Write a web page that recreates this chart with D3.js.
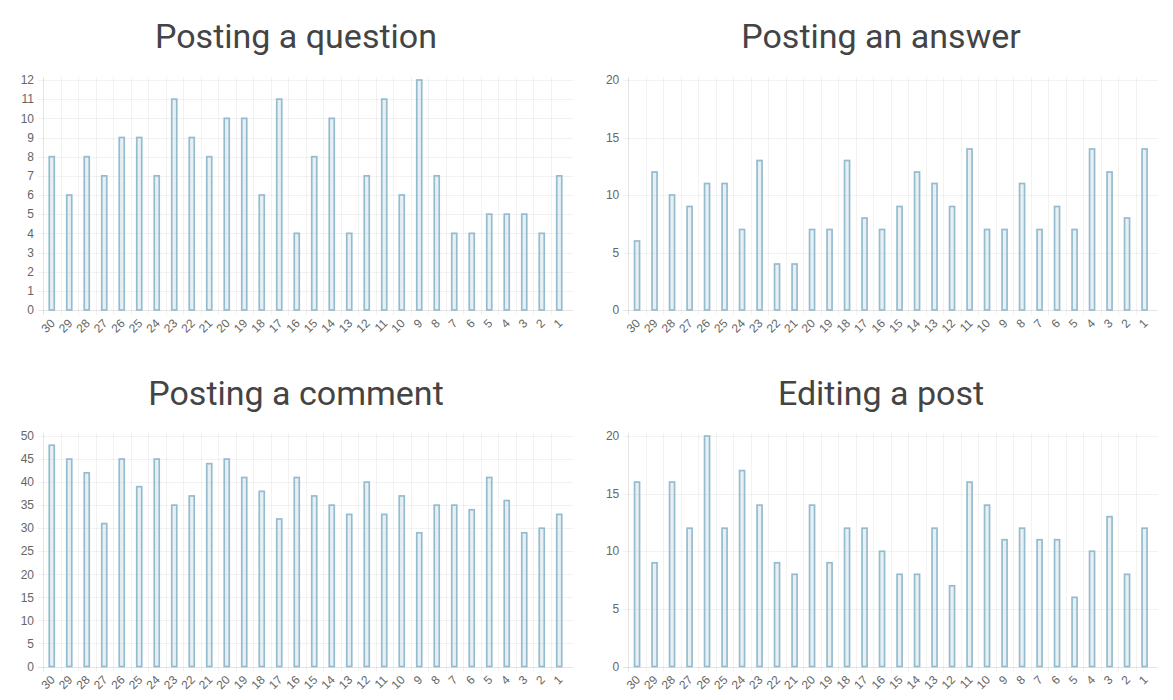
<!DOCTYPE html>
<html>
<head>
<meta charset="utf-8">
<script src="https://cdn.jsdelivr.net/npm/d3@7/dist/d3.min.js"></script>
<style>
html,body{margin:0;padding:0;background:#fff;}
svg{display:block;}
</style>
</head>
<body>
<svg id="chart" width="1173" height="700"></svg>
<script>
const days = [30,29,28,27,26,25,24,23,22,21,20,19,18,17,16,15,14,13,12,11,10,9,8,7,6,5,4,3,2,1];
const questionValues = [8,6,8,7,9,9,7,11,9,8,10,10,6,11,4,8,10,4,7,11,6,12,7,4,4,5,5,5,4,7];
const answerValues = [6,12,10,9,11,11,7,13,4,4,7,7,13,8,7,9,12,11,9,14,7,7,11,7,9,7,14,12,8,14];
const commentValues = [48,45,42,31,45,39,45,35,37,44,45,41,38,32,41,37,35,33,40,33,37,29,35,35,34,41,36,29,30,33];
const editValues = [16,9,16,12,20,12,17,14,9,8,14,9,12,12,10,8,8,12,7,16,14,11,12,11,11,6,10,13,8,12];
const titles = ["Posting a question","Posting an answer","Posting a comment","Editing a post"];
const yMaxes = [12,20,50,20];
const ySteps = [1,5,5,5];

const panels = [
  {title:titles[0], values:questionValues, yMax:yMaxes[0], step:ySteps[0], x0:43, x1:573, yTop:80, yBot:310, tx:296, ty:48},
  {title:titles[1], values:answerValues, yMax:yMaxes[1], step:ySteps[1], x0:628.3, x1:1158, yTop:80, yBot:310, tx:881, ty:48},
  {title:titles[2], values:commentValues, yMax:yMaxes[2], step:ySteps[2], x0:43, x1:573, yTop:436, yBot:666.5, tx:296, ty:405},
  {title:titles[3], values:editValues, yMax:yMaxes[3], step:ySteps[3], x0:628.3, x1:1158, yTop:436, yBot:666.5, tx:881, ty:405}
];

const svg = d3.select("#chart");
const labelFont = "'Liberation Sans', Arial, Helvetica, sans-serif";
const step = 17.5;

panels.forEach(p => {
  const g = svg.append("g");
  const x = d3.scaleBand().domain(days).range([p.x0, p.x0 + step * days.length]).padding(0);
  const y = d3.scaleLinear().domain([0, p.yMax]).range([p.yBot, p.yTop]);
  const ticks = d3.range(0, p.yMax + p.step/2, p.step);

  g.append("text")
    .attr("x", p.tx).attr("y", p.ty)
    .attr("text-anchor", "middle")
    .attr("font-family", "Roboto, sans-serif")
    .attr("font-size", 34)
    .attr("fill", "#444")
    .text(p.title);

  // horizontal grid lines
  g.selectAll(".hg").data(ticks).enter().append("line")
    .attr("x1", p.x0 - 5).attr("x2", p.x1)
    .attr("y1", d => Math.round(y(d)) + 0.5).attr("y2", d => Math.round(y(d)) + 0.5)
    .attr("stroke", d => d === 0 ? "rgba(0,0,0,0.1)" : "rgba(0,0,0,0.05)")
    .attr("stroke-width", 1);

  // vertical grid lines at band starts
  g.selectAll(".vg").data(days).enter().append("line")
    .attr("x1", d => Math.round(x(d)) + 0.5).attr("x2", d => Math.round(x(d)) + 0.5)
    .attr("y1", p.yTop - 3).attr("y2", p.yBot + 5)
    .attr("stroke", (d,i) => i === 0 ? "rgba(0,0,0,0.1)" : "rgba(0,0,0,0.05)")
    .attr("stroke-width", 1);

  // y tick labels
  g.selectAll(".yl").data(ticks).enter().append("text")
    .attr("x", p.x0 - 9).attr("y", d => y(d))
    .attr("dy", "0.35em")
    .attr("text-anchor", "end")
    .attr("font-family", labelFont)
    .attr("font-size", 12)
    .attr("fill", "#666")
    .text(d => d);

  // x tick labels rotated
  g.selectAll(".xl").data(days).enter().append("text")
    .attr("transform", d => `translate(${x(d) + x.bandwidth()/2 - 2},${p.yBot + 8}) rotate(-45)`)
    .attr("text-anchor", "end")
    .attr("dy", "0.7em")
    .attr("font-family", labelFont)
    .attr("font-size", 12)
    .attr("fill", "#666")
    .text(d => d);

  // bars
  const bw = 5;
  g.selectAll(".bar").data(p.values).enter().append("rect")
    .attr("x", (v,i) => x(days[i]) + x.bandwidth()/2 - bw/2)
    .attr("y", v => y(v))
    .attr("width", bw)
    .attr("height", v => p.yBot - y(v))
    .attr("fill", "rgba(151,187,205,0.22)")
    .attr("stroke", "rgb(148,188,207)")
    .attr("stroke-width", 1.7);
});
</script>
</body>
</html>
